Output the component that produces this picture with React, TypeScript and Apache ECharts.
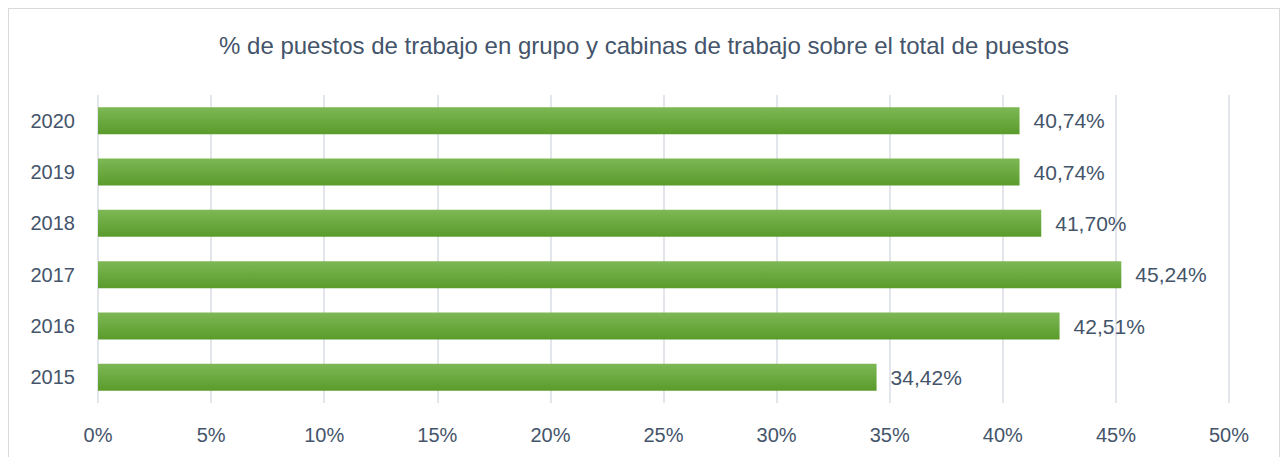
import React, { useEffect, useRef } from "react";
import * as echarts from "echarts";

const categories = ["2015", "2016", "2017", "2018", "2019", "2020"];
const values = [34.42, 42.51, 45.24, 41.7, 40.74, 40.74];
const title = "% de puestos de trabajo en grupo y cabinas de trabajo sobre el total de puestos";

const TEXT = "#44546A";
const FONT = "Liberation Sans";

export default function App() {
  const ref = useRef<HTMLDivElement>(null);
  useEffect(() => {
    if (!ref.current) return;
    const chart = echarts.init(ref.current, undefined, { renderer: "svg" });
    chart.setOption({
      animation: false,
      title: {
        text: title,
        left: "center",
        top: 19,
        textStyle: { color: TEXT, fontFamily: FONT, fontSize: 24, fontWeight: "normal" },
      },
      grid: { left: 89, right: 50, top: 86, height: 308, containLabel: false },
      xAxis: {
        type: "value",
        min: 0,
        max: 50,
        interval: 5,
        axisLine: { show: false },
        axisTick: { show: false },
        splitLine: { lineStyle: { color: "#D9DEE6", width: 1.5 } },
        axisLabel: {
          color: TEXT,
          fontFamily: FONT,
          fontSize: 20,
          margin: 22,
          formatter: (v: number) => `${v}%`,
        },
      },
      yAxis: {
        type: "category",
        data: categories,
        axisLine: { show: false },
        axisTick: { show: false },
        axisLabel: { color: TEXT, fontFamily: FONT, fontSize: 20, margin: 23 },
      },
      series: [
        {
          type: "bar",
          data: values,
          barWidth: 27,
          itemStyle: {
            color: new echarts.graphic.LinearGradient(0, 0, 0, 1, [
              { offset: 0, color: "#7DB855" },
              { offset: 1, color: "#5A9B2B" },
            ]),
          },
          label: {
            show: true,
            position: "right",
            distance: 14,
            color: TEXT,
            fontFamily: FONT,
            fontSize: 21,
            formatter: (p: any) => `${p.value.toFixed(2).replace(".", ",")}%`,
          },
        },
      ],
    });
    return () => chart.dispose();
  }, []);
  return (
    <div
      ref={ref}
      style={{ width: 1272, height: 460, boxSizing: "border-box", border: "1px solid #D9D9D9", background: "#fff" }}
    />
  );
}
